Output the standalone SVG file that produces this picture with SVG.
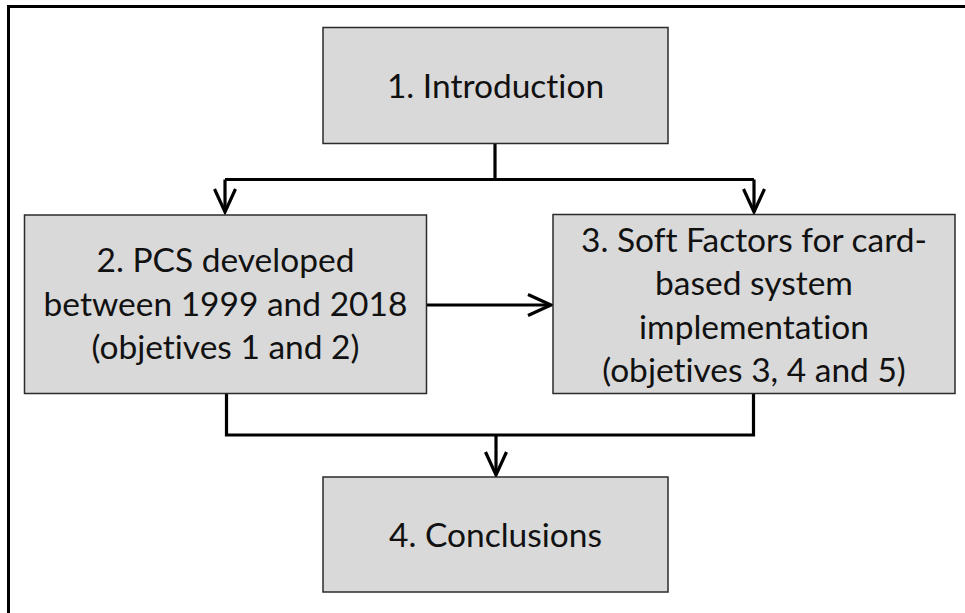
<svg xmlns="http://www.w3.org/2000/svg" width="965" height="613" viewBox="0 0 965 613">
  <style>
    .box { fill: #d9d9d9; stroke: #2b2b2b; stroke-width: 1.5; }
    .lbl { font-family: Lato, "Liberation Sans", sans-serif; font-size: 33.5px; fill: #111111; text-anchor: middle; font-variant-ligatures: none; font-feature-settings: "liga" 0, "clig" 0; }
    .wire { fill: none; stroke: #000000; stroke-width: 3.2; }
    .frame { fill: none; stroke: #000000; stroke-width: 3; }
  </style>
  <defs>
    <marker id="vhead" markerUnits="userSpaceOnUse" markerWidth="30" markerHeight="30" viewBox="-26 -14 30 28" refX="0" refY="0" orient="auto">
      <path d="M-23,-10.5 L0,0 L-23,10.5" fill="none" stroke="#000000" stroke-width="3.2" stroke-linejoin="miter"/>
    </marker>
  </defs>

  <rect x="0" y="0" width="965" height="613" fill="#ffffff"/>
  <!-- outer frame, running off the right and bottom edges -->
  <path class="frame" d="M8.5,613 V6.5 H965"/>

  <g id="connectors">
    <!-- Introduction splits to sections 2 and 3 -->
    <path class="wire" d="M495,143.5 V179.5"/>
    <path class="wire" d="M225,179.5 H754"/>
    <path class="wire" d="M225,179.5 V212" marker-end="url(#vhead)"/>
    <path class="wire" d="M754,179.5 V212" marker-end="url(#vhead)"/>
    <!-- section 2 feeds section 3 -->
    <path class="wire" d="M427,305 H551" marker-end="url(#vhead)"/>
    <!-- sections 2 and 3 merge into conclusions -->
    <path class="wire" d="M226.5,393.5 V435 H753.5 V393.5"/>
    <path class="wire" d="M496,435 V475" marker-end="url(#vhead)"/>
  </g>

  <g id="node-introduction">
    <rect class="box" x="323" y="27.5" width="345" height="116"/>
    <text class="lbl" x="495.5" y="98">1. Introduction</text>
  </g>

  <g id="node-pcs">
    <rect class="box" x="24.5" y="215" width="402" height="178.5"/>
    <text class="lbl" x="225.5" y="272">2. PCS developed</text>
    <text class="lbl" x="225.5" y="315.5">between 1999 and 2018</text>
    <text class="lbl" x="225.5" y="359">(objetives 1 and 2)</text>
  </g>

  <g id="node-soft-factors">
    <rect class="box" x="553" y="214.5" width="402" height="179"/>
    <text class="lbl" x="754" y="251.5">3. Soft Factors for card-</text>
    <text class="lbl" x="754" y="295">based system</text>
    <text class="lbl" x="754" y="338.5">implementation</text>
    <text class="lbl" x="754" y="382">(objetives 3, 4 and 5)</text>
  </g>

  <g id="node-conclusions">
    <rect class="box" x="323" y="477" width="345" height="115"/>
    <text class="lbl" x="495.5" y="546.5">4. Conclusions</text>
  </g>
</svg>
